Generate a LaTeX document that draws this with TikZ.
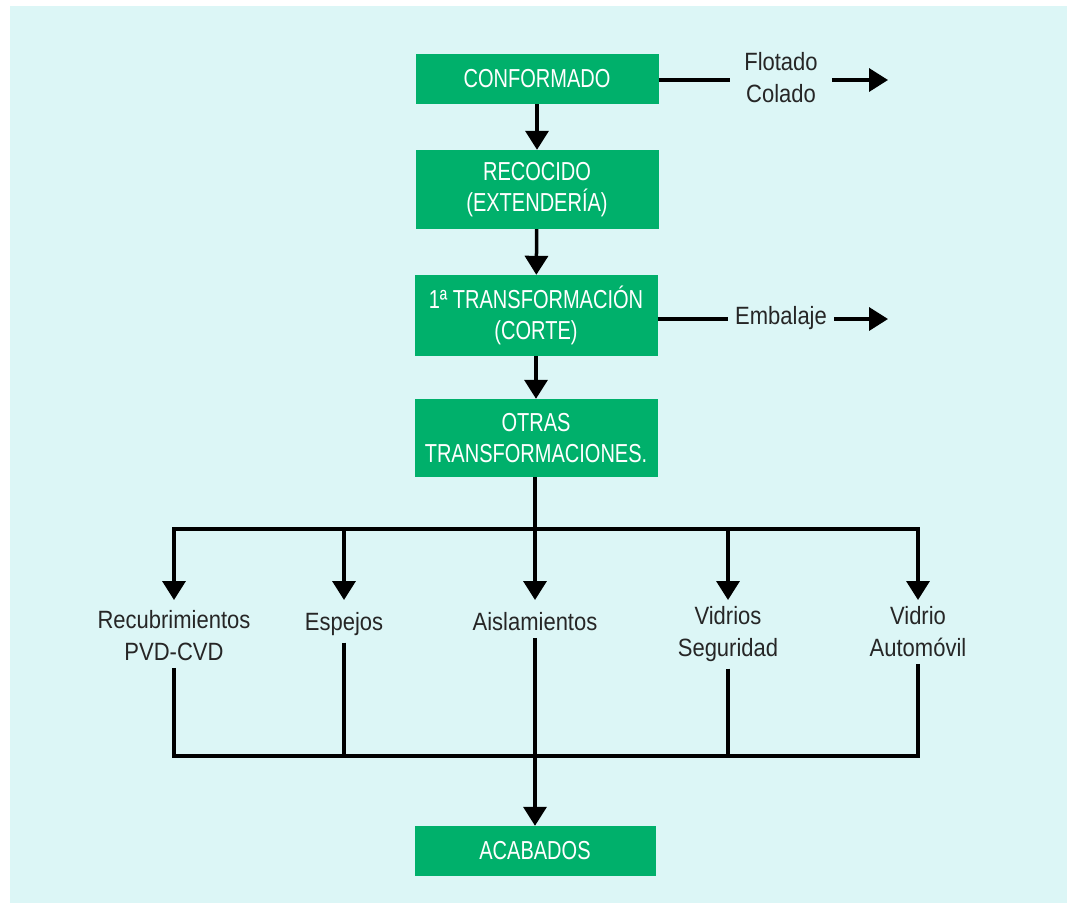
\documentclass[tikz,border=0pt]{standalone}
\usepackage{fontspec}
\setmainfont{Liberation Sans}[FakeStretch=0.88]
\newfontfamily\boxfont{Liberation Sans}[FakeStretch=0.77]
\usetikzlibrary{positioning, arrows.meta}
\definecolor{fondo}{HTML}{DCF6F6}
\definecolor{verde}{HTML}{00B06B}

\begin{document}
\begin{tikzpicture}[
                x=1pt, y=-1pt,
                paso/.style={fill=verde, draw=none, minimum width=243pt, inner sep=0pt,
                             text=white, align=center,
                             font=\boxfont\fontsize{26}{31}\selectfont},
                etq/.style={align=center, inner sep=5pt, text=black!85,
                            font=\fontsize{25}{32}\selectfont},
                rama/.style={etq, anchor=north, inner sep=7pt},
                lin/.style={line width=3.5pt, black},
                arr/.style={lin, -{Triangle[width=23pt, length=19pt]}},
            ]
                % page and background panel
                \useasboundingbox (0,0) rectangle (1067,903);
                \fill[white] (0,0) rectangle (1067,903);
                \fill[fondo] (10,6) rectangle (1067,903);

                % main process boxes
                \node[paso, minimum height=50pt] (conf) at (537,79) {CONFORMADO};
                \node[paso, minimum height=79pt] (recoc) at (537,189.5) {RECOCIDO\\(EXTENDERÍA)};
                \node[paso, minimum height=81pt] (corte) at (536,315.5) {1ª TRANSFORMACIÓN\\(CORTE)};
                \node[paso, minimum height=78pt] (otras) at (536,438) {OTRAS\\TRANSFORMACIONES.};
                \node[paso, minimum height=50pt, minimum width=241pt] (acab) at (535,851) {ACABADOS};

                \draw[arr] (conf) -- (recoc);
                \draw[arr] (recoc) -- (corte);
                \draw[arr] (corte) -- (otras);

                % side outputs
                \node[etq, inner sep=14pt] (flot) at (781,78) {Flotado\\Colado};
                \coordinate (flotfin) at (888,80);
                \draw[lin] (conf.east |- flotfin) -- (flot.west |- flotfin);
                \draw[arr] (flot.east |- flotfin) -- (flotfin);

                \node[etq, inner sep=7pt] (emb) at (781,318) {Embalaje};
                \coordinate (embfin) at (888,319);
                \draw[lin] (corte.east |- embfin) -- (emb.west |- embfin);
                \draw[arr] (emb.east |- embfin) -- (embfin);

                % branches
                \coordinate (reparto) at (535,529);
                \coordinate (union) at (535,756);
                \node[rama] (recub) at (174,603) {Recubrimientos\\PVD-CVD};
                \node[rama] (esp) at (344,605) {Espejos};
                \node[rama] (ais) at (535,605) {Aislamientos};
                \node[rama] (vseg) at (728,599) {Vidrios\\Seguridad};
                \node[rama] (vaut) at (918,599) {Vidrio\\Automóvil};

                \draw[lin] (otras.south -| reparto) -- (reparto);
                \draw[lin, line cap=rect] (recub |- reparto) -- (vaut |- reparto);
                \foreach \r in {recub, esp, ais, vseg, vaut} {
                    \draw[arr] (\r |- reparto) -- (\r |- 0,600);
                }

                % collect into finishing
                \foreach \r in {recub, esp, vseg, vaut} {
                    \draw[lin] (\r.south) -- (\r |- union);
                }
                \draw[lin, line cap=rect] (recub |- union) -- (vaut |- union);
                \draw[arr] (ais) -- (acab);
            \end{tikzpicture}
\end{document}
